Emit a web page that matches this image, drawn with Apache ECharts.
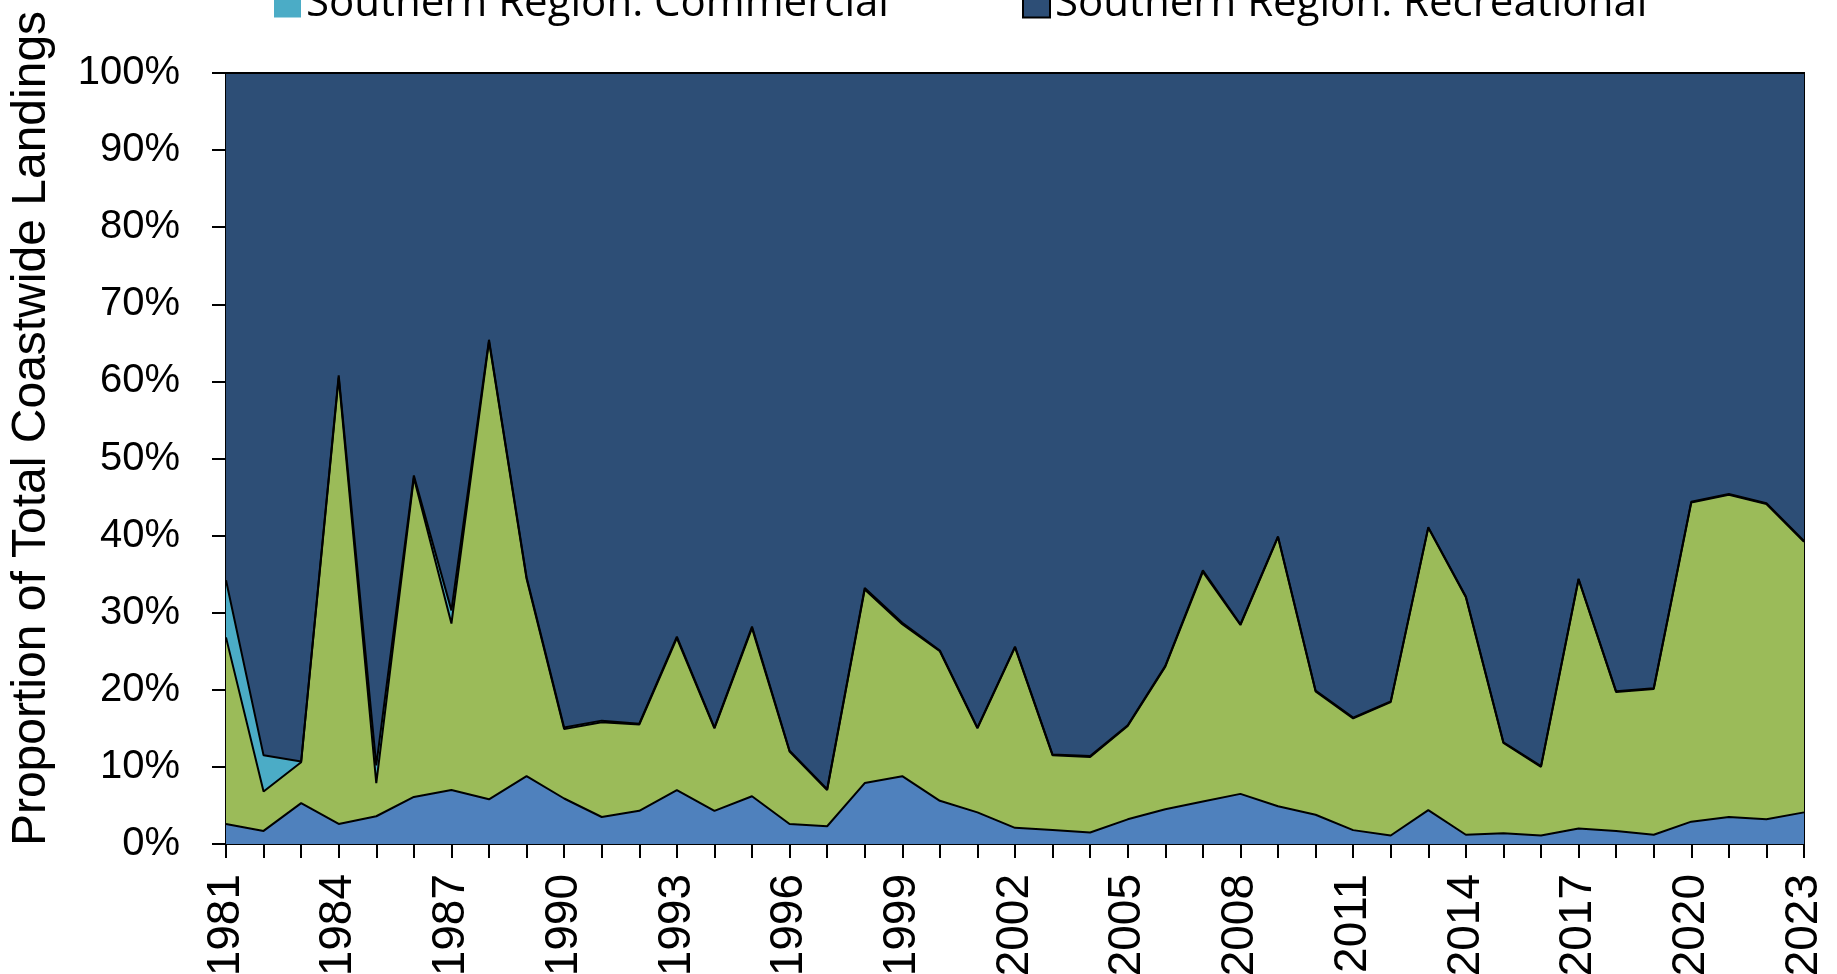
<!DOCTYPE html>
<html>
<head>
<meta charset="utf-8">
<script src="https://cdn.jsdelivr.net/npm/echarts@6/dist/echarts.min.js"></script>
<style>
  html, body { margin: 0; padding: 0; background: #fff; }
  #chart { width: 1837px; height: 974px; }
</style>
</head>
<body>
<div id="chart"></div>
<script>
// years on the x axis
const years = ['1981','1982','1983','1984','1985','1986','1987','1988','1989','1990',
  '1991','1992','1993','1994','1995','1996','1997','1998','1999','2000',
  '2001','2002','2003','2004','2005','2006','2007','2008','2009','2010',
  '2011','2012','2013','2014','2015','2016','2017','2018','2019','2020',
  '2021','2022','2023'];

// share of coastwide landings, %
const northComm = [2.6,1.7,5.3,2.6,3.6,6.1,7.0,5.8,8.8,5.9,3.5,4.3,7.0,4.3,6.2,2.6,2.3,7.9,8.8,5.6,
  4.1,2.1,1.8,1.5,3.2,4.5,5.5,6.5,4.9,3.8,1.8,1.1,4.4,1.2,1.4,1.1,2.0,1.7,1.2,2.9,3.5,3.2,4.1];
const northRec = [24.2,5.1,5.3,57.9,4.3,41.4,21.6,59.4,25.6,9.0,12.3,11.2,19.7,10.7,21.8,9.4,4.7,25.1,19.7,19.4,
  10.9,23.4,9.7,9.8,12.1,18.5,29.8,21.9,34.9,16.0,14.5,17.3,36.6,30.8,11.7,8.9,32.3,18.0,18.9,41.4,41.8,40.9,35.1];
const southComm = [7.4,4.7,0.1,0.3,2.3,0.3,1.7,0.2,0.2,0.2,0.2,0.1,0.2,0.1,0.2,0.1,0.1,0.2,0.2,0.1,
  0.1,0.1,0.1,0.1,0.1,0.1,0.2,0.1,0.1,0.1,0.1,0.1,0.1,0.1,0.1,0.1,0.1,0.1,0.1,0.1,0.1,0.1,0.1];
const southRec = [65.8,88.5,89.3,39.2,89.8,52.2,69.7,34.6,65.4,84.9,84.0,84.4,73.1,84.9,71.8,87.9,92.9,66.8,71.3,74.9,
  84.9,74.4,88.4,88.6,84.6,76.9,64.5,71.5,60.1,80.1,83.6,81.5,58.9,67.9,86.8,89.9,65.6,80.2,79.8,55.6,54.6,55.8,60.7];

const seriesNames = ['Northern Region: Commercial','Northern Region: Recreational',
  'Southern Region: Commercial','Southern Region: Recreational'];
const seriesColors = ['#4F81BD','#9BBB59','#4BACC6','#2D4E76'];
const seriesData = [northComm, northRec, southComm, southRec];

const chart = echarts.init(document.getElementById('chart'));

// stacked area series, black outline like the excel original
const series = seriesData.map((d, i) => ({
  name: seriesNames[i],
  type: 'line',
  stack: 'total',
  data: d,
  symbol: 'none',
  lineStyle: { color: '#000', width: 2 },
  areaStyle: { color: seriesColors[i], opacity: 1 },
  itemStyle: { color: seriesColors[i] },
  emphasis: { disabled: true }
}));

const legendText = { fontFamily: 'Open Sans', fontSize: 42, color: '#000', lineHeight: 27 };

const option = {
  animation: false,
  textStyle: { fontFamily: 'Liberation Sans' },
  grid: {
    left: 226, right: 33, top: 73, bottom: 130,
    outerBoundsMode: 'none',
    show: true, borderColor: '#000', borderWidth: 2
  },
  legend: [
    { // first row sits above the visible area
      top: -85, left: 274, padding: 0, itemWidth: 27, itemHeight: 27, itemGap: 150,
      data: [
        { name: seriesNames[0], icon: 'rect', itemStyle: { color: seriesColors[0], borderWidth: 0 } },
        { name: seriesNames[1], icon: 'rect', itemStyle: { color: seriesColors[1], borderWidth: 0 } }
      ],
      textStyle: legendText
    },
    {
      top: -17, left: 274, padding: 0, itemWidth: 27, itemHeight: 27,
      data: [{ name: seriesNames[2], icon: 'rect', itemStyle: { color: seriesColors[2], borderWidth: 0 } }],
      textStyle: legendText
    },
    {
      top: -17, left: 1022, padding: 0, itemWidth: 27, itemHeight: 27,
      data: [{ name: seriesNames[3], icon: 'rect', itemStyle: { color: seriesColors[3], borderColor: '#000', borderWidth: 2 } }],
      textStyle: legendText
    }
  ],
  xAxis: {
    type: 'category',
    data: years,
    boundaryGap: false,
    axisLine: { lineStyle: { color: '#000', width: 2 } },
    axisTick: { interval: 0, length: 14, lineStyle: { color: '#000', width: 2 } },
    axisLabel: { interval: 2, rotate: 90, fontSize: 46, color: '#000', margin: 30, fontFamily: 'Liberation Sans' },
    splitLine: { show: false }
  },
  yAxis: {
    type: 'value',
    min: 0, max: 100, interval: 10,
    name: 'Proportion of Total Coastwide Landings',
    nameLocation: 'middle',
    nameGap: 170,
    nameTextStyle: { fontSize: 48, color: '#000', fontFamily: 'Liberation Sans', padding: [0, 0, 0, 60] },
    axisLine: { show: true, lineStyle: { color: '#000', width: 2 } },
    axisTick: { show: true, length: 14, lineStyle: { color: '#000', width: 2 } },
    axisLabel: { formatter: '{value}%', fontSize: 40, color: '#000', margin: 46, fontFamily: 'Liberation Sans' },
    splitLine: { show: false }
  },
  series: series
};

chart.setOption(option);
</script>
</body>
</html>
